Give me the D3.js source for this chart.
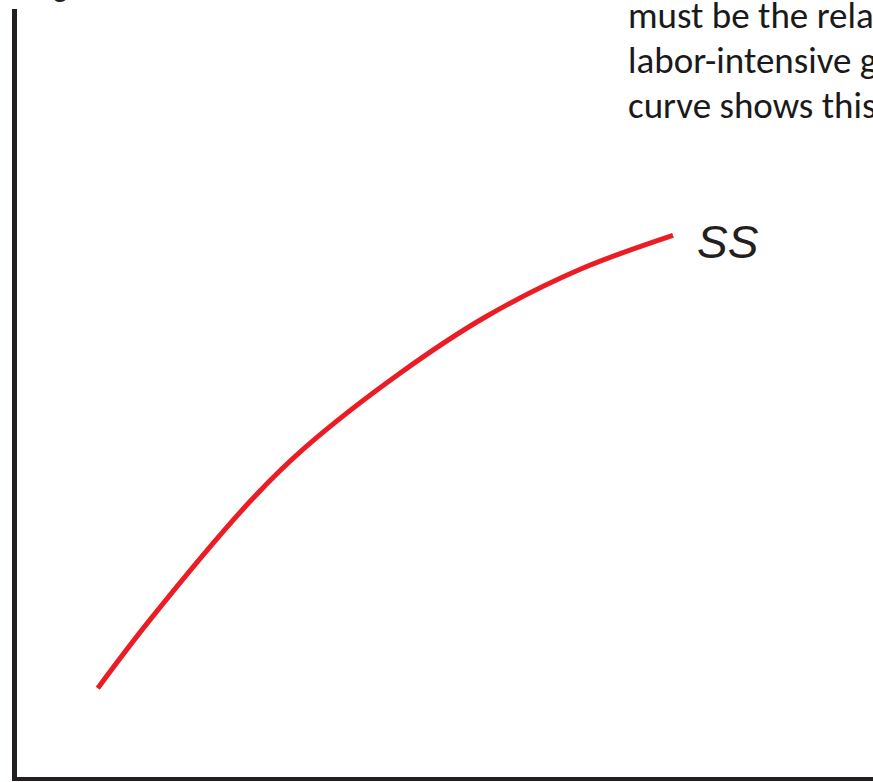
<!DOCTYPE html>
<html>
<head>
<meta charset="utf-8">
<script src="https://cdn.jsdelivr.net/npm/d3@7"></script>
<style>
  html, body { margin: 0; padding: 0; background: #fff; overflow: hidden; }
  svg { display: block; }
</style>
</head>
<body>
<script>
// Curve data (arbitrary units: x = relative price, y = wage-rental ratio)
const curveX = [9.7, 15.8, 27.4, 33.8, 44.9, 55.0, 65.9, 76.7];
const curveY = [11.8, 20.7, 36.0, 43.0, 52.7, 60.1, 66.2, 70.6];
const curveLabel = "SS";
const axisLabel = "Wage-rental ratio, w/r";
const noteLines = ["must be the relative price of", "labor-intensive goods. The SS", "curve shows this relationship."];

const W = 873, H = 782;
const svg = d3.select("body").append("svg").attr("width", W).attr("height", H);

const x = d3.scaleLinear().domain([0, 100]).range([14.5, 873]);
const y = d3.scaleLinear().domain([0, 100]).range([779, 9]);

// axes
const yAxis = svg.append("g").attr("transform", `translate(${x(0)},0)`)
  .call(d3.axisLeft(y).ticks(0).tickSizeOuter(0));
yAxis.select(".domain").attr("stroke", "#231f20").attr("stroke-width", 5)
  .attr("d", `M0,${y(100)}V${y(0) + 2}`);

const xAxis = svg.append("g").attr("transform", `translate(0,${y(0)})`)
  .call(d3.axisBottom(x).ticks(0).tickSizeOuter(0));
xAxis.select(".domain").attr("stroke", "#231f20").attr("stroke-width", 4)
  .attr("d", `M${x(0) - 2.5},0H${x(100)}`);

// curve
const pts = curveX.map((v, i) => [v, curveY[i]]);
const line = d3.line().x(d => x(d[0])).y(d => y(d[1])).curve(d3.curveCatmullRom.alpha(0.5));
svg.append("path").datum(pts).attr("d", line)
  .attr("fill", "none").attr("stroke", "#ec1c24").attr("stroke-width", 5);

// curve label
const last = pts[pts.length - 1];
svg.append("text").attr("x", x(last[0]) + 24).attr("y", y(last[1]) + 23)
  .attr("font-family", "Liberation Sans, Arial, sans-serif")
  .attr("font-style", "italic").attr("font-size", 46).attr("fill", "#231f20")
  .text(curveLabel);

// cut-off axis label at very top
svg.append("text").attr("x", 8).attr("y", -4)
  .attr("font-family", "Liberation Sans, Arial, sans-serif")
  .attr("font-size", 30).attr("fill", "#231f20").text(axisLabel);

// note text at top right (clipped by the page edge, as in the reference)
svg.append("g").selectAll("text").data(noteLines).join("text")
  .attr("x", 628).attr("y", (d, i) => 28 + i * 45)
  .attr("font-family", "Carlito, Lato, sans-serif")
  .attr("font-size", 37).attr("fill", "#1a1a1a")
  .text(d => d);
</script>
</body>
</html>
